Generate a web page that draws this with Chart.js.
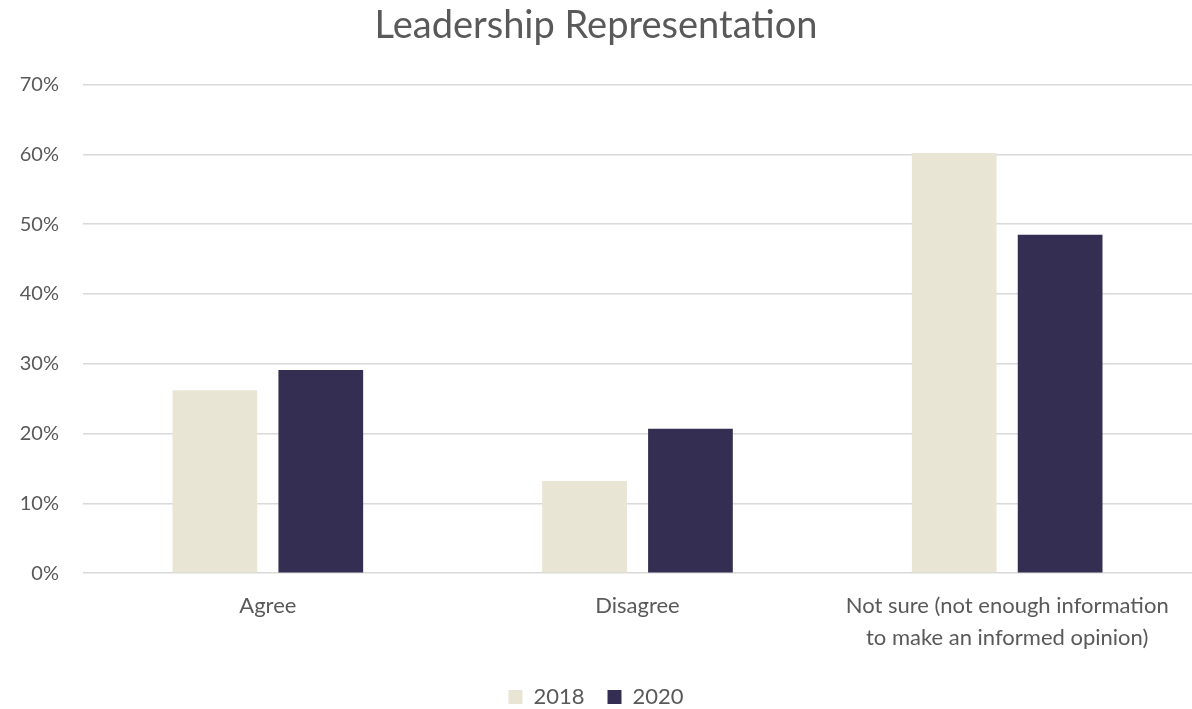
<!DOCTYPE html>
<html lang="en">
<head>
    <meta charset="UTF-8">
    <title>Leadership Representation</title>
    <script src="https://cdn.jsdelivr.net/npm/chart.js"></script>
    <style>
        html, body {
            margin: 0;
            padding: 0;
            background: #ffffff;
        }
        .wrap {
            width: 1192px;
            height: 709px;
        }
    </style>
</head>
<body>
    <div class="wrap">
        <canvas id="leadershipChart" width="1192" height="709"></canvas>
    </div>

    <script>
        const categories = [
            'Agree',
            'Disagree',
            ['Not sure (not enough information', 'to make an informed opinion)']
        ];
        const values2018 = [26.2, 13.2, 60.2];
        const values2020 = [29.1, 20.7, 48.5];
        const yTicks = [0, 10, 20, 30, 40, 50, 60, 70];

        const textColor = '#595959';
        const fontFamily = 'Lato, "Open Sans", sans-serif';

        Chart.defaults.font.family = fontFamily;
        Chart.defaults.color = textColor;

        const ctx = document.getElementById('leadershipChart').getContext('2d');
        new Chart(ctx, {
            type: 'bar',
            data: {
                labels: categories,
                datasets: [
                    {
                        label: '2018',
                        data: values2018,
                        backgroundColor: '#e8e5d5',
                        barPercentage: 0.8,
                        categoryPercentage: 0.573
                    },
                    {
                        label: '2020',
                        data: values2020,
                        backgroundColor: '#342e52',
                        barPercentage: 0.8,
                        categoryPercentage: 0.573
                    }
                ]
            },
            options: {
                responsive: false,
                animation: false,
                layout: {
                    padding: { top: 1, right: 0, bottom: -9, left: 0 }
                },
                plugins: {
                    title: {
                        display: true,
                        text: 'Leadership Representation',
                        color: textColor,
                        font: { size: 38, weight: 'normal' },
                        padding: { top: 2, bottom: 36 }
                    },
                    legend: {
                        position: 'bottom',
                        labels: {
                            boxWidth: 14,
                            boxHeight: 14,
                            padding: 23,
                            color: textColor,
                            font: { size: 22 }
                        }
                    },
                    tooltip: { enabled: false }
                },
                scales: {
                    x: {
                        grid: { display: false },
                        border: { display: false },
                        ticks: {
                            color: textColor,
                            font: { size: 22, lineHeight: 1.45 },
                            padding: 9,
                            maxRotation: 0
                        }
                    },
                    y: {
                        min: 0,
                        max: 70,
                        afterBuildTicks: scale => {
                            scale.ticks = yTicks.map(v => ({ value: v }));
                        },
                        afterFit: scale => {
                            scale.width = 83;
                        },
                        grid: {
                            color: '#d9d9d9',
                            lineWidth: 1.5,
                            drawTicks: false
                        },
                        border: { display: false },
                        ticks: {
                            color: textColor,
                            font: { size: 20 },
                            padding: 24,
                            callback: v => v + '%'
                        }
                    }
                }
            }
        });
    </script>
</body>
</html>
